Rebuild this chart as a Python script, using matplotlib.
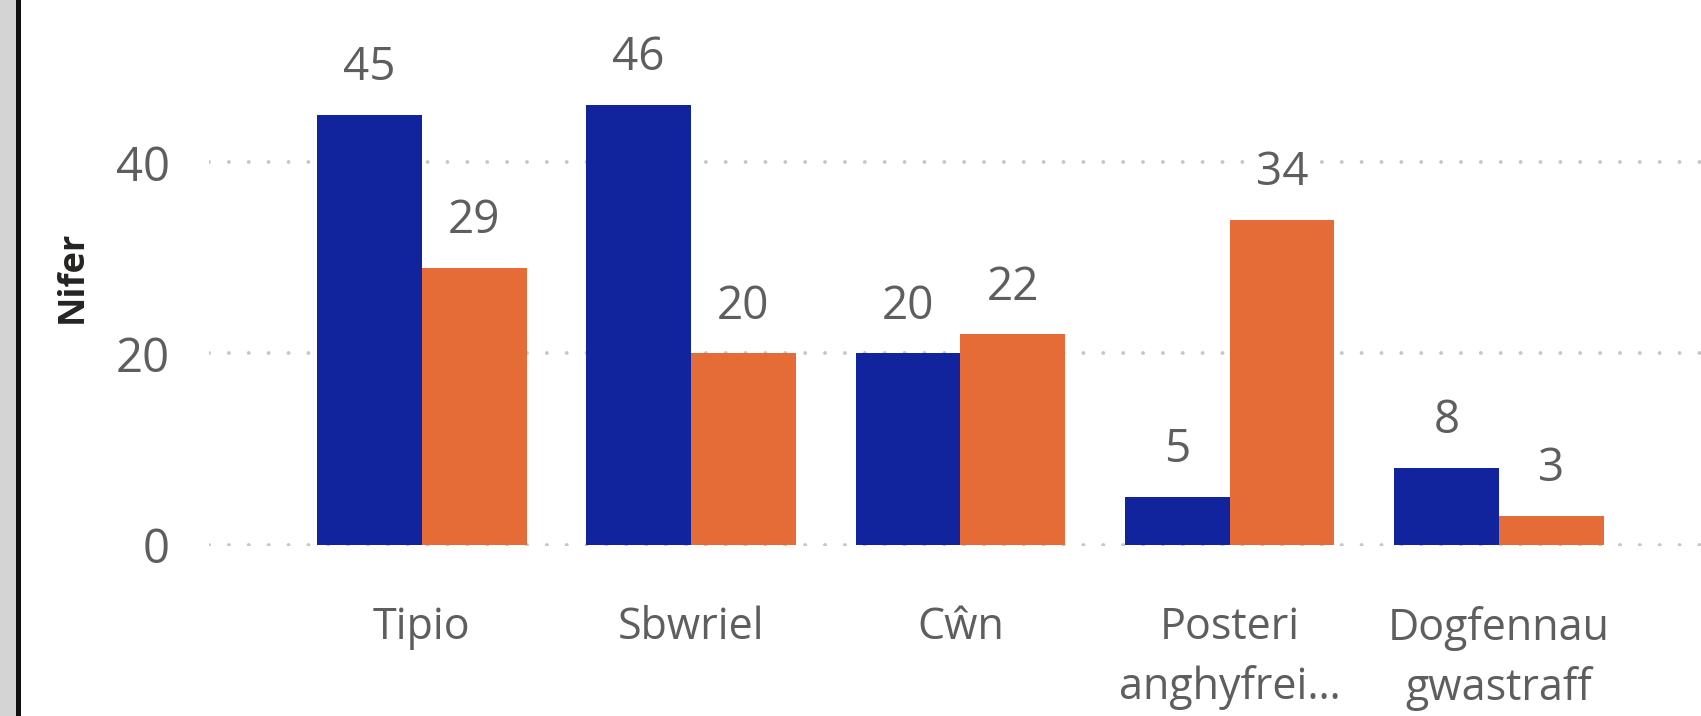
import numpy as np
import matplotlib.pyplot as plt
from matplotlib.patches import Rectangle

# --- data ---
categories = ["Tipio", "Sbwriel", "Cŵn", "Posteri\nanghyfrei…", "Dogfennau\ngwastraff"]
series_a = [45, 46, 20, 5, 8]
series_b = [29, 20, 22, 34, 3]
y_ticks = [0, 20, 40]

BLUE = "#12239E"
ORANGE = "#E66C37"
TEXT = "#605E5C"
FONT = "Open Sans"

W, H, DPI = 1701, 716, 100
fig = plt.figure(figsize=(W / DPI, H / DPI), dpi=DPI)
fig.patch.set_facecolor("white")

# grey strip + dark border on the left edge
fig.patches.append(Rectangle((0, 0), 16 / W, 1, transform=fig.transFigure,
                             facecolor="#D4D4D4", edgecolor="none"))
fig.patches.append(Rectangle((16 / W, 0), 5 / W, 1, transform=fig.transFigure,
                             facecolor="#111111", edgecolor="none"))

ax = fig.add_axes([209 / W, (H - 546) / H, 1 - 209 / W, 546 / H])
x = np.arange(len(categories))
bw = 0.389

ax.bar(x - bw / 2, series_a, bw, color=BLUE, zorder=2)
ax.bar(x + bw / 2, series_b, bw, color=ORANGE, zorder=2)

ax.set_xlim(-0.79, 4.75)
ax.set_ylim(-0.15, 57)

# dotted grid
for t in y_ticks:
    ax.axhline(t, color="#C6C6C6", lw=2.8, linestyle=(0, (0.01, 5.1)),
               dash_capstyle="round", zorder=1)

# value labels
for xs, vals in ((x - bw / 2, series_a), (x + bw / 2, series_b)):
    for xi, v in zip(xs, vals):
        ax.annotate(str(v), (xi, v), xytext=(0, 25), textcoords="offset points",
                    ha="center", va="baseline", fontsize=33, color=TEXT,
                    family=FONT, zorder=3,
                    bbox=dict(facecolor="white", edgecolor="none", pad=1))

ax.set_yticks(y_ticks)
ax.set_yticklabels([str(t) for t in y_ticks], fontsize=34, color=TEXT, family=FONT)
ax.set_xticks(x)
ax.set_xticklabels(categories, fontsize=31, color=TEXT, family=FONT,
                   linespacing=1.45)
ax.tick_params(axis="y", length=0, pad=28)
ax.tick_params(axis="x", length=0, pad=43)

for s in ax.spines.values():
    s.set_visible(False)

fig.text(73 / W, 1 - 277 / H, "Nifer", rotation=90, ha="center", va="center",
         fontsize=26, fontweight="bold", color="#252423", family=FONT)

fig.savefig("out.png", dpi=DPI, facecolor="white")
